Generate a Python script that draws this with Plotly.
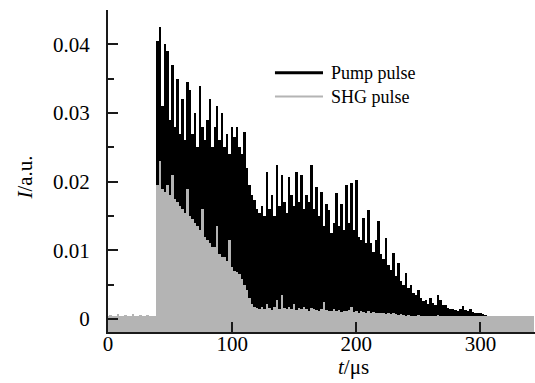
import plotly.graph_objects as go

# ---- data (2 µs bins) ----
pump_start = 40  # µs, first bin centre
pump = [
    0.0405, 0.0425, 0.031, 0.040, 0.039, 0.029, 0.037, 0.028, 0.035, 0.027,   # 40-58
    0.032, 0.026, 0.0345, 0.0333, 0.027, 0.030, 0.025, 0.034, 0.028, 0.026,   # 60-78
    0.029, 0.032, 0.025, 0.028, 0.031, 0.026, 0.030, 0.025, 0.027, 0.024,     # 80-98
    0.028, 0.0265, 0.028, 0.025, 0.024, 0.0272, 0.022, 0.0195, 0.018, 0.0173, # 100-118
    0.016, 0.0155, 0.0165, 0.015, 0.0214, 0.016, 0.018, 0.015, 0.0224, 0.0165, # 120-138
    0.021, 0.017, 0.0155, 0.0207, 0.018, 0.0165, 0.0214, 0.017, 0.021, 0.016, # 140-158
    0.018, 0.017, 0.0224, 0.016, 0.0192, 0.015, 0.0185, 0.0135, 0.0168, 0.0159, # 160-178
    0.0125, 0.014, 0.0183, 0.0135, 0.0168, 0.013, 0.0195, 0.014, 0.0198, 0.013, # 180-198
    0.0202, 0.012, 0.0115, 0.0147, 0.011, 0.0159, 0.011, 0.0098, 0.0115, 0.0142, # 200-218
    0.0095, 0.0088, 0.0118, 0.0078, 0.0072, 0.0096, 0.0062, 0.0081, 0.0055, 0.005, # 220-238
    0.0067, 0.0045, 0.005, 0.0038, 0.0035, 0.0042, 0.003, 0.0026, 0.0028, 0.0022, # 240-258
    0.003, 0.0023, 0.002, 0.0035, 0.0027, 0.002, 0.0021, 0.0016, 0.0015, 0.0014, # 260-278
    0.0013, 0.0012, 0.0015, 0.0019, 0.0013, 0.0011, 0.0015, 0.001, 0.0009, 0.0008, # 280-298
    0.0008, 0.0007, 0.0006,                                                     # 300-304
]

shg_start = 0
shg = [
    0.0004, 0.0006, 0.0004, 0.0005, 0.0007, 0.0004, 0.0005, 0.0006, 0.0004, 0.0005,  # 0-18
    0.0007, 0.0005, 0.0004, 0.0006, 0.0005, 0.0004, 0.0006, 0.0005, 0.0004, 0.0005,  # 20-38
    0.0195, 0.023, 0.019, 0.0185, 0.0195, 0.018, 0.021, 0.0175, 0.017, 0.0165,      # 40-58
    0.016, 0.0155, 0.019, 0.015, 0.0145, 0.014, 0.0135, 0.013, 0.016, 0.012,        # 60-78
    0.0115, 0.011, 0.0105, 0.0105, 0.0135, 0.0095, 0.009, 0.009, 0.0085, 0.0115,    # 80-98
    0.0075, 0.007, 0.0068, 0.0065, 0.0058, 0.005, 0.0042, 0.003, 0.0022, 0.0018,    # 100-118
    0.0016, 0.0014, 0.0018, 0.0015, 0.0022, 0.0016, 0.0013, 0.0017, 0.0028, 0.0015, # 120-138
    0.0035, 0.0016, 0.0014, 0.0018, 0.0015, 0.0022, 0.0013, 0.0016, 0.0014, 0.0017, # 140-158
    0.0015, 0.0012, 0.0016, 0.0014, 0.0013, 0.0012, 0.0015, 0.0025, 0.0013, 0.0011, # 160-178
    0.0012, 0.0014, 0.0011, 0.0013, 0.001, 0.0012, 0.0011, 0.0013, 0.0018, 0.001,   # 180-198
    0.0011, 0.0009, 0.0012, 0.001, 0.0009, 0.0011, 0.0009, 0.001, 0.0008, 0.0009,   # 200-218
    0.0008, 0.0009, 0.0007, 0.0008, 0.0007, 0.0009, 0.0007, 0.0006, 0.0007, 0.0006, # 220-238
    0.0005, 0.0006, 0.0005, 0.0004, 0.0005, 0.0006, 0.0004, 0.0005, 0.0004, 0.0005, # 240-258
    0.0004, 0.0005, 0.0004, 0.0006, 0.0004, 0.0005, 0.0004, 0.0005, 0.0004, 0.0005, # 260-278
    0.0004, 0.0005, 0.0004, 0.0005, 0.0004, 0.0004, 0.0005, 0.0004, 0.0005, 0.0004, # 280-298
    0.0004, 0.0005, 0.0004, 0.0004, 0.0005, 0.0004, 0.0005, 0.0004, 0.0004, 0.0005, # 300-318
    0.0004, 0.0005, 0.0004, 0.0004, 0.0005, 0.0004, 0.0005, 0.0004, 0.0004, 0.0005, # 320-338
    0.0004, 0.0005,                                                                 # 340-342
]

bin_width = 2  # µs
x_ticks = [0, 100, 200, 300]
y_ticks = [0, 0.01, 0.02, 0.03, 0.04]
y_tick_text = ["0", "0.01", "0.02", "0.03", "0.04"]
legend_names = ["Pump pulse", "SHG pulse"]

# ---- figure ----
Y_MIN, Y_MAX = -0.0019, 0.045
X_MIN, X_MAX = 0, 344
PUMP_C = "#000000"
SHG_C = "#b4b4b4"
AX_C = "#1a1a1a"
FONT = "Liberation Serif, Times New Roman, serif"

pump_t = [pump_start + bin_width * i for i in range(len(pump))]
shg_t = [shg_start + bin_width * i for i in range(len(shg))]

fig = go.Figure()
fig.add_trace(go.Bar(
    x=pump_t, y=[v - Y_MIN for v in pump], base=Y_MIN, width=bin_width,
    marker=dict(color=PUMP_C, line=dict(width=0)), name=legend_names[0],
    showlegend=False, hoverinfo="skip"))
fig.add_trace(go.Bar(
    x=shg_t, y=[v - Y_MIN for v in shg], base=Y_MIN, width=bin_width,
    marker=dict(color=SHG_C, line=dict(width=0)), name=legend_names[1],
    showlegend=False, hoverinfo="skip"))

fig.update_layout(
    width=535, height=383,
    margin=dict(l=108, r=0, t=10, b=51),
    paper_bgcolor="white", plot_bgcolor="white",
    barmode="overlay", bargap=0,
    font=dict(family=FONT, size=21, color="black"),
    showlegend=False,
)
fig.update_xaxes(
    range=[X_MIN, X_MAX], showgrid=False, zeroline=False,
    showline=True, linecolor=AX_C, linewidth=2,
    tickmode="array", tickvals=x_ticks, ticktext=[str(v) for v in x_ticks],
    ticks="inside", ticklen=10, tickwidth=2, tickcolor=AX_C,
    tickfont=dict(family=FONT, size=21),
    ticklabelstandoff=-8,
)
fig.update_yaxes(
    range=[Y_MIN, Y_MAX], showgrid=False, zeroline=False,
    showline=True, linecolor=AX_C, linewidth=2,
    tickmode="array", tickvals=y_ticks, ticktext=y_tick_text,
    ticks="inside", ticklen=10, tickwidth=2, tickcolor=AX_C,
    minor=dict(tickmode="array", tickvals=[0.005, 0.015, 0.025, 0.035, 0.045],
               ticks="inside", ticklen=6, tickwidth=2, tickcolor=AX_C),
    tickfont=dict(family=FONT, size=21),
    ticklabelstandoff=12,
)

# axis titles
fig.add_annotation(xref="paper", yref="paper", x=0.574, y=-0.108,
                   text="<i>t</i>/μs", showarrow=False,
                   font=dict(family=FONT, size=21), xanchor="center", yanchor="middle")
fig.add_annotation(xref="paper", yref="paper", x=-0.194, y=0.48,
                   text="<i>I</i>/a.u.", showarrow=False, textangle=-90,
                   font=dict(family=FONT, size=21), xanchor="center", yanchor="middle")

# legend (drawn)
legend_y = [0.805, 0.731]
legend_col = [PUMP_C, SHG_C]
legend_w = [3, 2]
for name, yy, col, lw in zip(legend_names, legend_y, legend_col, legend_w):
    fig.add_shape(type="line", xref="paper", yref="paper",
                  x0=0.391, x1=0.5035, y0=yy, y1=yy,
                  line=dict(color=col, width=lw))
    fig.add_annotation(xref="paper", yref="paper", x=0.518, y=yy, text=name,
                       showarrow=False, xanchor="left", yanchor="middle",
                       font=dict(family=FONT, size=18, color="black"))

fig.write_html("out.html")
